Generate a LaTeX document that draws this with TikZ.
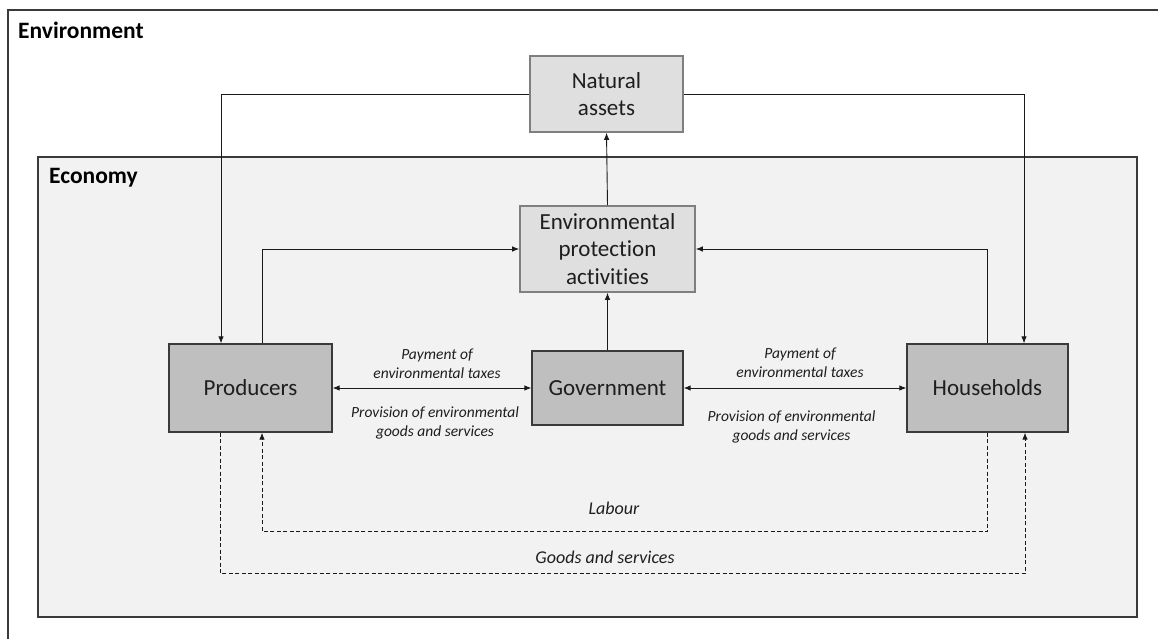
\documentclass[tikz,border=0pt]{standalone}
\usepackage{fontspec}
\setmainfont{Carlito}[Ligatures=NoCommon]
\usetikzlibrary{arrows.meta}
\definecolor{txt}{HTML}{1E1E1E}
\definecolor{econfill}{HTML}{F2F2F2}
\definecolor{lightbox}{HTML}{DFDFDF}
\definecolor{lightborder}{HTML}{7F7F7F}
\definecolor{darkbox}{HTML}{BFBFBF}
\definecolor{darkborder}{HTML}{3A3A3A}
\definecolor{linec}{HTML}{1A1A1A}
\tikzset{
  boxtext/.style={font=\fontsize{23}{27.5}\selectfont, text=txt, align=center, inner sep=0pt},
  lightnode/.style={boxtext, draw=lightborder, fill=lightbox, line width=1.6pt},
  darknode/.style={boxtext, draw=darkborder, fill=darkbox, line width=1.3pt},
  conn/.style={draw=linec, line width=0.9pt},
  arr/.style={conn, -{Latex[length=7pt,width=5.5pt]}},
  biarr/.style={conn, {Latex[length=7pt,width=5.5pt]}-{Latex[length=7pt,width=5.5pt]}},
  dash2/.style={dash pattern=on 4pt off 2.5pt},
  smalllab/.style={font=\fontsize{15.5}{19}\selectfont\itshape, text=txt, align=center, inner sep=0pt},
  midlab/.style={font=\fontsize{18}{21}\selectfont\itshape, text=txt, align=center, inner sep=0pt},
  titlelab/.style={font=\fontsize{23.5}{27}\selectfont\bfseries, text=black, anchor=west, inner sep=0pt},
}
\begin{document}
\begin{tikzpicture}[x=1pt,y=-1pt]
\useasboundingbox (0,0) rectangle (1158,639);
\fill[white] (0,0) rectangle (1158,639);
% environment frame (top and left edges visible)
\draw[draw=darkborder, line width=1.3pt] (8,660) -- (8,10) -- (1180,10);
\node[titlelab] (envlab) at (18,30) {Environment};
% economy box
\draw[draw=darkborder, fill=econfill, line width=1.3pt] (38,157) rectangle (1137,617);
\node[titlelab] (econlab) at (49,178) {Economy};
% nodes
\node[lightnode, minimum width=153pt, minimum height=76pt] (nat) at (606.5,94) {Natural\\assets};
\node[lightnode, minimum width=175pt, minimum height=86pt] (epa) at (607.5,249) {Environmental\\protection\\activities};
\node[darknode, minimum width=163pt, minimum height=88pt] (prod) at (250.5,388) {Producers};
\node[darknode, minimum width=151pt, minimum height=74pt] (gov) at (607.5,388) {Government};
\node[darknode, minimum width=161pt, minimum height=88pt] (hh) at (987.5,388) {Households};
% connectors
\draw[arr] (nat.west) -| ([xshift=-29.5pt]prod.north);
\draw[arr] (nat.east) -| ([xshift=36.5pt]hh.north);
\draw[arr] ([xshift=11.5pt]prod.north) |- (epa.west);
\draw[arr] (hh.north) |- (epa.east);
\draw[arr] (gov.north) -- (epa.south);
\draw[arr] (epa.north) -- (nat.south);
\draw[biarr] (prod.east) -- (gov.west);
\draw[biarr] (gov.east) -- (hh.west);
\coordinate (labR) at ([yshift=-99pt]hh.south);
\coordinate (gdsL) at ([xshift=-30.5pt,yshift=-141pt]prod.south);
\draw[arr, dash2] (hh.south) -- (labR) -| ([xshift=11.5pt]prod.south);
\draw[arr, dash2] ([xshift=-30.5pt]prod.south) -- (gdsL) -| ([xshift=37.5pt]hh.south);
% labels
\node[smalllab] (payL) at (437,363.5) {Payment of\\environmental taxes};
\node[smalllab] (provL) at (435,423) {Provision of environmental\\goods and services};
\node[smalllab] (payR) at (800,362.5) {Payment of\\environmental taxes};
\node[smalllab] (provR) at (791.5,426.5) {Provision of environmental\\goods and services};
\node[midlab] (labour) at (614,508) {Labour};
\node[midlab] (goods) at (605,557) {Goods and services};
\end{tikzpicture}
\end{document}
